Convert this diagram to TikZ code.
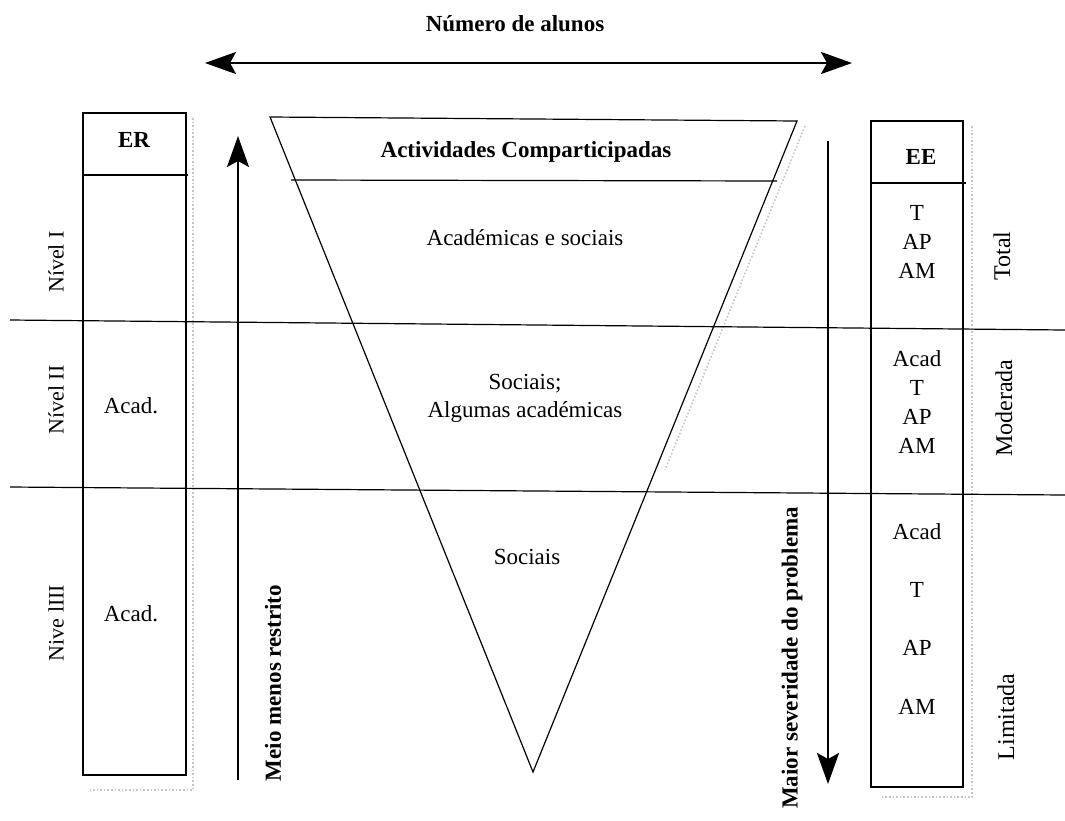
\documentclass[tikz,border=0pt]{standalone}
\usepackage{fontspec}
\setmainfont{Liberation Serif}
\usetikzlibrary{arrows.meta}
\tikzset{
  txt/.style={inner sep=0pt, font=\fontsize{23}{28}\selectfont},
  btxt/.style={inner sep=0pt, font=\fontsize{23}{28}\selectfont\bfseries},
  side/.style={inner sep=0pt, rotate=90, font=\fontsize{22}{26}\selectfont},
  rside/.style={inner sep=0pt, rotate=90, font=\fontsize{24}{28}\selectfont},
  bside/.style={inner sep=0pt, rotate=90, font=\fontsize{23}{28}\selectfont\bfseries},
  frame/.style={draw, line width=1.3pt, inner sep=0pt},
  thin/.style={line width=1.2pt},
  bigarrow/.style={line width=2.6pt},
  tip/.tip={Stealth[length=31pt,width=22pt,inset=6pt]},
  shadow/.style={gray!45, line width=1.6pt, dotted}
}
\begin{document}
\begin{tikzpicture}[x=1pt,y=-1pt]
\useasboundingbox (0,0) rectangle (1065,820);
% shadows
\draw[shadow] (193,118) -- (193,790) -- (90,790);
\draw[shadow] (972,126) -- (972,797) -- (880,797);
\draw[shadow] (805,126) -- (665,470);
% title and double arrow
\node[btxt] (title) at (515,24) {Número de alunos};
\coordinate (hl) at (205,63);
\coordinate (hr) at (852,63);
\draw[bigarrow,{tip}-{tip}] (hl) -- (hr);
% level lines
\coordinate (l1a) at (10,320); \coordinate (l1b) at (1065,330);
\coordinate (l2a) at (10,487); \coordinate (l2b) at (1065,495);
\draw[thin] (l1a) -- (l1b);
\draw[thin] (l2a) -- (l2b);
% left box ER
\node[frame, minimum width=103pt, minimum height=662pt] (ER) at (134.5,444) {};
\coordinate (erh1) at (83,175); \coordinate (erh2) at (188,175);
\draw[thin] (erh1) -- (erh2);
\node[btxt] (ert) at (134,140) {ER};
\node[txt] (era1) at (131,406) {Acad.};
\node[txt] (era2) at (131,614) {Acad.};
% left side labels
\node[side] (n1) at (56,262) {Nível I};
\node[side] (n2) at (56,400) {Nível II};
\node[side] (n3) at (56,623) {Nive lIII};
% up arrow
\coordinate (ua1) at (238,780); \coordinate (ua2) at (238,136);
\draw[bigarrow,-{tip}] (ua1) -- (ua2);
\node[bside] (meio) at (273,683) {Meio menos restrito};
% triangle
\coordinate (tl) at (270,117);
\coordinate (tr) at (797,121);
\coordinate (tb) at (533,772);
\draw[thin] (tl) -- (tr) -- (tb) -- cycle;
\coordinate (th1) at (291,180); \coordinate (th2) at (777,181);
\draw[thin] (th1) -- (th2);
\node[btxt] (act) at (526,152) {Actividades Comparticipadas};
\node[txt] (as) at (525,238) {Académicas e sociais};
\node[txt, align=center] (sa) at (525,398) {Sociais;\\Algumas académicas};
\node[txt] (so) at (527,557) {Sociais};
% down arrow
\coordinate (da1) at (828,141); \coordinate (da2) at (828,784);
\draw[bigarrow,-{tip}] (da1) -- (da2);
\node[bside] (maior) at (792,658) {Maior severidade do problema};
% right box EE
\node[frame, minimum width=92pt, minimum height=666pt] (EE) at (917,454) {};
\coordinate (eeh1) at (871,183); \coordinate (eeh2) at (966,183);
\draw[thin] (eeh1) -- (eeh2);
\node[btxt] (eet) at (921,157) {EE};
\node[txt] (e1) at (917,213) {T};
\node[txt] (e2) at (917,242) {AP};
\node[txt] (e3) at (917,271) {AM};
\node[txt] (e4) at (917,359) {Acad};
\node[txt] (e5) at (917,388) {T};
\node[txt] (e6) at (917,417) {AP};
\node[txt] (e7) at (917,446) {AM};
\node[txt] (e8) at (917,532) {Acad};
\node[txt] (e9) at (917,590) {T};
\node[txt] (e10) at (917,648) {AP};
\node[txt] (e11) at (917,707) {AM};
% right side labels
\node[rside] (tot) at (1002,256) {Total};
\node[rside] (mod) at (1004,408) {Moderada};
\node[rside] (lim) at (1006,717) {Limitada};
\end{tikzpicture}
\end{document}
